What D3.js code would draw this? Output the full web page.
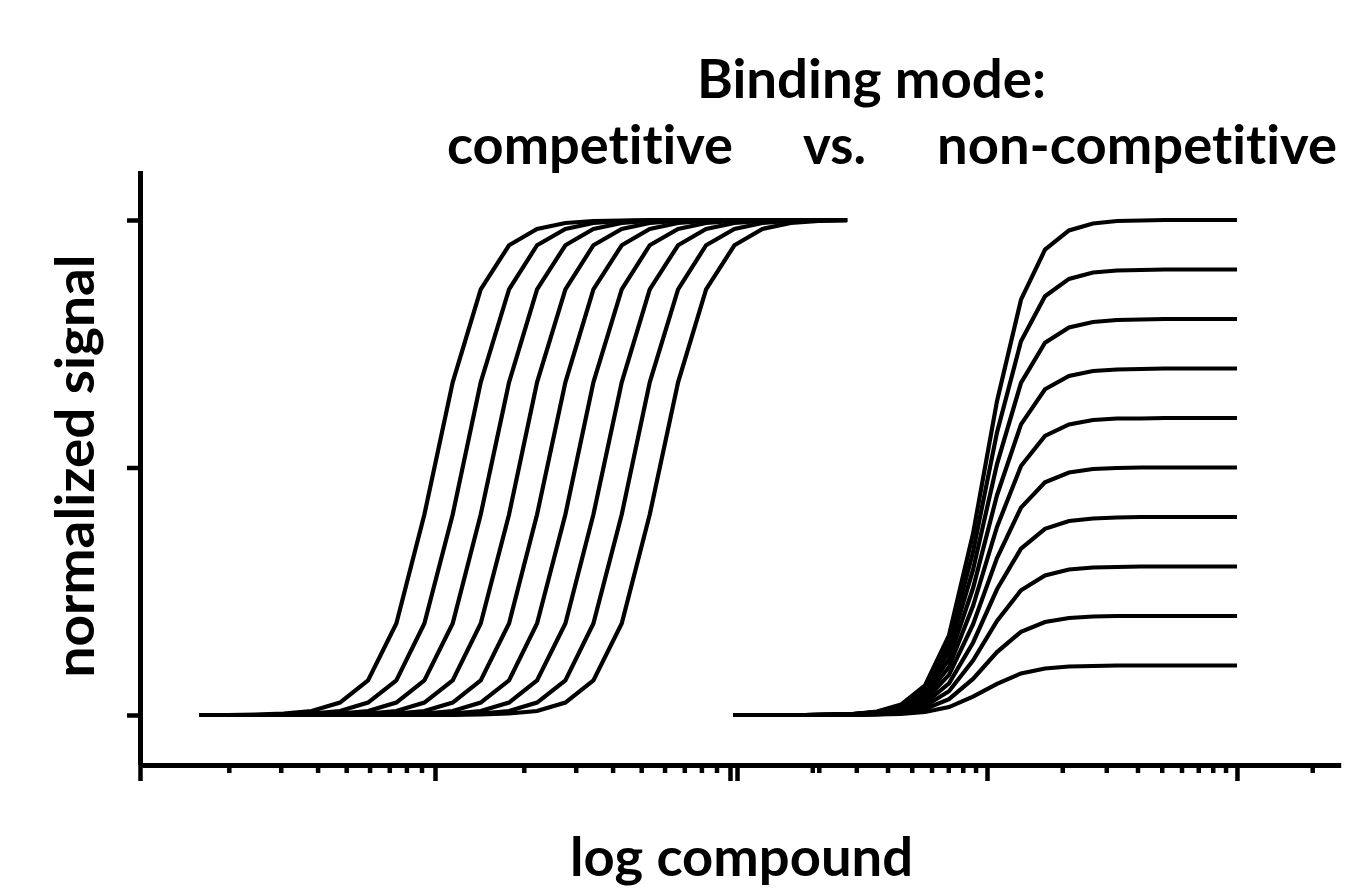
<!DOCTYPE html>
<html>
<head>
<meta charset="utf-8">
<script src="https://cdn.jsdelivr.net/npm/d3@7"></script>
<style>
  html, body { margin: 0; padding: 0; background: #fff; }
  svg { display: block; }
  text {
    font-family: Lato, "Open Sans", sans-serif; font-weight: 700; fill: #000;
    font-variant-ligatures: none; font-feature-settings: "liga" 0, "clig" 0;
  }
</style>
</head>
<body>
<script>
// log10 of compound concentration at each measured point
const competitiveLogDose = [-8.800, -8.704, -8.609, -8.513, -8.418, -8.322, -8.227, -8.131,
  -8.036, -7.940, -7.845, -7.749, -7.654, -7.558, -7.463, -7.367, -7.272, -7.176,
  -7.081, -6.985, -6.890, -6.794, -6.699, -6.603];
const nonCompetitiveLogDose = [-8.016, -7.920, -7.824, -7.728, -7.632, -7.536, -7.440, -7.344,
  -7.248, -7.152, -7.056, -6.960, -6.864, -6.768, -6.672, -6.576, -6.480, -6.384,
  -6.288, -6.192, -6.096, -6.000];

// competitive: same maximum, potency shifts to the right
const competitiveSignal = [
  [0, 0, 0.001, 0.003, 0.008, 0.025, 0.070, 0.185, 0.405, 0.672, 0.860, 0.949, 0.982, 0.994, 0.998, 0.999, 1, 1, 1, 1, 1, 1, 1, 1],
  [0, 0, 0, 0.001, 0.003, 0.008, 0.025, 0.070, 0.185, 0.405, 0.672, 0.860, 0.949, 0.982, 0.994, 0.998, 0.999, 1, 1, 1, 1, 1, 1, 1],
  [0, 0, 0, 0, 0.001, 0.003, 0.008, 0.025, 0.070, 0.185, 0.405, 0.672, 0.860, 0.949, 0.982, 0.994, 0.998, 0.999, 1, 1, 1, 1, 1, 1],
  [0, 0, 0, 0, 0, 0.001, 0.003, 0.008, 0.025, 0.070, 0.185, 0.405, 0.672, 0.860, 0.949, 0.982, 0.994, 0.998, 0.999, 1, 1, 1, 1, 1],
  [0, 0, 0, 0, 0, 0, 0.001, 0.003, 0.008, 0.025, 0.070, 0.185, 0.405, 0.672, 0.860, 0.949, 0.982, 0.994, 0.998, 0.999, 1, 1, 1, 1],
  [0, 0, 0, 0, 0, 0, 0, 0.001, 0.003, 0.008, 0.025, 0.070, 0.185, 0.405, 0.672, 0.860, 0.949, 0.982, 0.994, 0.998, 0.999, 1, 1, 1],
  [0, 0, 0, 0, 0, 0, 0, 0, 0.001, 0.003, 0.008, 0.025, 0.070, 0.185, 0.405, 0.672, 0.860, 0.949, 0.982, 0.994, 0.998, 0.999, 1, 1],
  [0, 0, 0, 0, 0, 0, 0, 0, 0, 0.001, 0.003, 0.008, 0.025, 0.070, 0.185, 0.405, 0.672, 0.860, 0.949, 0.982, 0.994, 0.998, 0.999, 1],
  [0, 0, 0, 0, 0, 0, 0, 0, 0, 0, 0.001, 0.003, 0.008, 0.025, 0.070, 0.185, 0.405, 0.672, 0.860, 0.949, 0.982, 0.994, 0.998, 0.999]
];

// non-competitive: same potency, maximum drops in steps of 10 %
const nonCompetitiveSignal = [
  [0, 0, 0, 0, 0.001, 0.002, 0.007, 0.021, 0.060, 0.161, 0.366, 0.634, 0.839, 0.940, 0.979, 0.993, 0.998, 0.999, 1, 1, 1, 1],
  [0, 0, 0, 0, 0.001, 0.002, 0.006, 0.019, 0.054, 0.145, 0.329, 0.571, 0.755, 0.846, 0.881, 0.894, 0.898, 0.899, 0.9, 0.9, 0.9, 0.9],
  [0, 0, 0, 0, 0.001, 0.002, 0.006, 0.017, 0.048, 0.129, 0.293, 0.507, 0.671, 0.752, 0.783, 0.794, 0.798, 0.799, 0.8, 0.8, 0.8, 0.8],
  [0, 0, 0, 0, 0.001, 0.002, 0.005, 0.015, 0.042, 0.113, 0.256, 0.444, 0.587, 0.658, 0.685, 0.695, 0.698, 0.699, 0.7, 0.7, 0.7, 0.7],
  [0, 0, 0, 0, 0, 0.001, 0.004, 0.012, 0.036, 0.097, 0.220, 0.380, 0.503, 0.564, 0.587, 0.596, 0.599, 0.599, 0.6, 0.6, 0.6, 0.6],
  [0, 0, 0, 0, 0, 0.001, 0.003, 0.010, 0.030, 0.081, 0.183, 0.317, 0.419, 0.470, 0.490, 0.497, 0.499, 0.5, 0.5, 0.5, 0.5, 0.5],
  [0, 0, 0, 0, 0, 0.001, 0.003, 0.008, 0.024, 0.064, 0.146, 0.254, 0.336, 0.376, 0.392, 0.397, 0.399, 0.4, 0.4, 0.4, 0.4, 0.4],
  [0, 0, 0, 0, 0, 0.001, 0.002, 0.006, 0.018, 0.048, 0.110, 0.190, 0.252, 0.282, 0.294, 0.298, 0.299, 0.3, 0.3, 0.3, 0.3, 0.3],
  [0, 0, 0, 0, 0, 0, 0.001, 0.004, 0.012, 0.032, 0.073, 0.127, 0.168, 0.188, 0.196, 0.199, 0.2, 0.2, 0.2, 0.2, 0.2, 0.2],
  [0, 0, 0, 0, 0, 0, 0.001, 0.002, 0.006, 0.016, 0.037, 0.063, 0.084, 0.094, 0.098, 0.099, 0.1, 0.1, 0.1, 0.1, 0.1, 0.1]
];

const yTickValues = [0, 0.5, 1];

const width = 1349, height = 890;
const svg = d3.select("body").append("svg")
  .attr("width", width).attr("height", height);

// scales: one signal axis, two log-dose axes sharing the baseline
const y = d3.scaleLinear().domain([-0.1, 1.1]).range([764.5, 170.5]);
const xLeft = d3.scaleLog().domain([1e-9, 2.6e-7]).range([140, 852.4]);
const xRight = d3.scaleLog().domain([9.6e-9, 2.6e-6]).range([732.6, 1340.7]);

const axisY = 765;
const isDecade = d => Math.abs(Math.log10(d) - Math.round(Math.log10(d))) < 1e-6;

function drawDoseAxis(scale) {
  const g = svg.append("g")
    .attr("transform", `translate(0,${axisY})`)
    .call(d3.axisBottom(scale)
      .tickValues(scale.ticks())
      .tickFormat("")
      .tickSizeInner(8)
      .tickSizeOuter(0));
  g.select(".domain").attr("stroke", "#000").attr("stroke-width", 5);
  g.selectAll(".tick line")
    .attr("stroke", "#000")
    .attr("stroke-width", 4.5)
    .attr("y2", d => isDecade(d) ? 16 : 8);
  return g;
}

// curves
const curveLayer = svg.append("g").attr("fill", "none")
  .attr("stroke", "#000").attr("stroke-width", 4.2)
  .attr("stroke-linejoin", "miter");

const lineLeft = d3.line()
  .x((d, i) => xLeft(Math.pow(10, competitiveLogDose[i])))
  .y(d => y(d));
const lineRight = d3.line()
  .x((d, i) => xRight(Math.pow(10, nonCompetitiveLogDose[i])))
  .y(d => y(d));

curveLayer.selectAll("path.comp")
  .data(competitiveSignal).join("path")
  .attr("class", "comp")
  .attr("d", lineLeft);

curveLayer.selectAll("path.noncomp")
  .data(nonCompetitiveSignal).join("path")
  .attr("class", "noncomp")
  .attr("d", lineRight);

// axes
drawDoseAxis(xLeft);
drawDoseAxis(xRight);

const gy = svg.append("g")
  .attr("transform", "translate(140,0)")
  .call(d3.axisLeft(y).tickValues(yTickValues).tickFormat("").tickSizeInner(13).tickSizeOuter(0));
gy.select(".domain").attr("stroke", "#000").attr("stroke-width", 5);
gy.selectAll(".tick line").attr("stroke", "#000").attr("stroke-width", 4.5);

// titles and axis labels
const fs = 54;
function label(txt, cx, by, len) {
  return svg.append("text")
    .attr("x", cx).attr("y", by)
    .attr("text-anchor", "middle")
    .attr("font-size", fs)
    .attr("textLength", len)
    .attr("lengthAdjust", "spacingAndGlyphs")
    .text(txt);
}
label("Binding mode:", 871.5, 98, 349);
label("competitive", 590, 164, 286);
label("vs.", 834.5, 164, 63);
label("non-competitive", 1137, 164, 400);
label("log compound", 741.5, 876, 343);

svg.append("text")
  .attr("transform", "translate(94,466) rotate(-90)")
  .attr("text-anchor", "middle")
  .attr("font-size", fs)
  .attr("textLength", 423)
  .attr("lengthAdjust", "spacingAndGlyphs")
  .text("normalized signal");
</script>
</body>
</html>
